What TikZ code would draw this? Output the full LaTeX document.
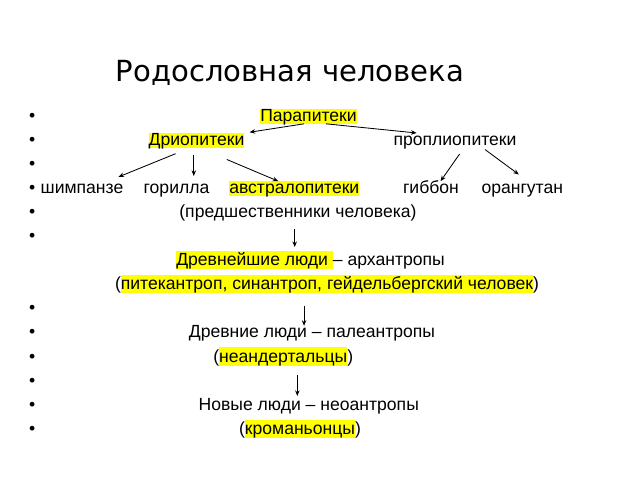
\documentclass[tikz,border=0pt]{standalone}
\usepackage{fontspec}
\setmainfont{Liberation Sans}
\newfontfamily\titlefont{DejaVu Sans}
\usetikzlibrary{arrows.meta}
\definecolor{hlyellow}{RGB}{255,255,0}
\newcommand{\hltext}[1]{{\setlength{\fboxsep}{0pt}\colorbox{hlyellow}{\vrule height 0.84em depth 0.18em width 0pt #1}}}

\begin{document}
\begin{tikzpicture}[x=0.025cm, y=-0.025cm,
	txt/.style={anchor=base, inner sep=0pt, text height=0.84em, text depth=0.18em, font=\fontsize{12.5}{15}\selectfont},
	hlword/.style={txt, fill=hlyellow},
	arr/.style={-{Stealth[length=4pt,width=3.2pt]}, line width=0.6pt, black}]
	\useasboundingbox (0,0) rectangle (640,480);

	\node[anchor=base, font=\titlefont\fontsize{20.7}{24}\selectfont] (title) at (290,81.7) {Родословная человека};

	% bullets
	\foreach \k in {0,1,2,3,4,5,8,9,10,11,12,13}
		\node[txt] (b\k) at (32.3,{121+24.1*\k}) {\textbullet};

	\node[hlword] (para) at (308.5,121) {Парапитеки};
	\node[hlword] (drio) at (196.5,145.1) {Дриопитеки};
	\node[txt] (propl) at (455,145.1) {проплиопитеки};
	\node[txt] (chimp) at (82,193.3) {шимпанзе};
	\node[txt] (gorilla) at (176.5,193.3) {горилла};
	\node[hlword, anchor=base west] (austr) at (229,193.3) {австралопитеки\ };
	\node[txt] (gibbon) at (431,193.3) {гиббон};
	\node[txt] (orang) at (522.3,193.3) {орангутан};
	\node[txt] (pred) at (298,217.4) {(предшественники человека)};
	\node[txt, anchor=base west] (arch) at (176,265.6) {\hltext{Древнейшие люди\ }– архантропы};
	\node[txt] (pit) at (327,289.7) {(\hltext{питекантроп, синантроп, гейдельбергский человек})};
	\node[txt] (paleo) at (312,337.9) {Древние люди – палеантропы};
	\node[txt] (neand) at (283.3,362) {(\hltext{неандертальцы})};
	\node[txt] (neo) at (308.8,410.2) {Новые люди – неоантропы};
	\node[txt] (kro) at (300,434.3) {(\hltext{кроманьонцы})};

	% arrows
	\draw[arr, shorten >=3.5pt] (para.239) -- (drio.north east);
	\draw[arr] (para.337) -- (propl.169);
	\draw[arr, shorten <=10.9pt, shorten >=8pt] (drio.228) -- (chimp.16.5);
	\draw[arr, shorten <=4.7pt, shorten >=3.7pt] (drio.250) -- (drio.250 |- gorilla.north);
	\draw[arr, shorten <=21.2pt] (drio.291) -- (austr.155);
	\draw[arr, shorten <=5.3pt] (propl.320) -- (gibbon.38);
	\draw[arr, shorten <=2pt, shorten >=8pt] (propl.345) -- (orang.53);
	\draw[arr, shorten <=6.2pt, shorten >=4.6pt] (pred.246) -- (pred.246 |- arch.north);
	\draw[arr, shorten <=9.3pt] (pit.198) -- (pit.198 |- paleo.north);
	\draw[arr, shorten <=7pt, shorten >=1.5pt] (neand.332) -- (neand.332 |- neo.north);
\end{tikzpicture}
\end{document}
